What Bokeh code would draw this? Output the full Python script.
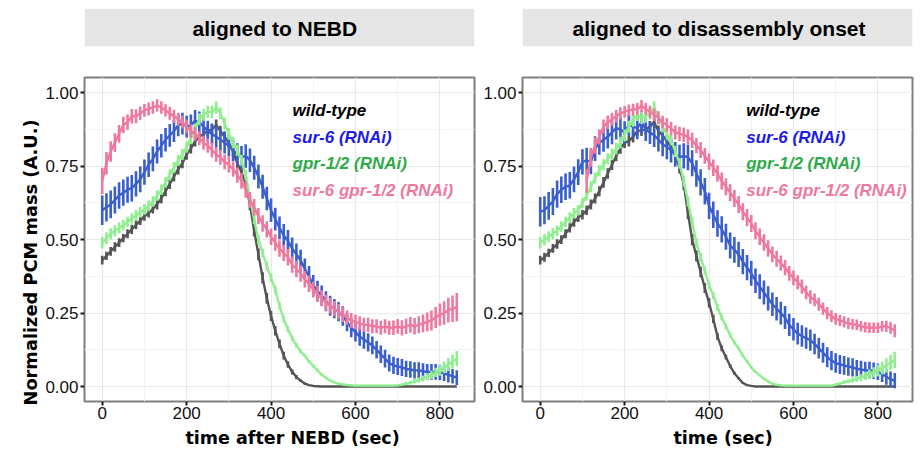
import math
from bokeh.plotting import figure
from bokeh.layouts import row, column
from bokeh.models import Range1d, FixedTicker, NumeralTickFormatter, Label, Title
from bokeh.embed import file_html
from bokeh.resources import INLINE

# ---------------- data ----------------
TIME = list(range(0, 850, 10))          # sampling times (s), 0..840
TIME_DBL_ONSET = list(range(110, 850, 10))  # double RNAi, disassembly-aligned, starts later

PANEL_TITLES = ["aligned to NEBD", "aligned to disassembly onset"]
X_TITLES = ["time after NEBD (sec)", "time (sec)"]
Y_TITLE = "Normalized PCM mass (A.U.)"
SERIES_NAMES = ["wild-type", "sur-6 (RNAi)", "gpr-1/2 (RNAi)", "sur-6 gpr-1/2 (RNAi)"]
X_TICKS = [0, 200, 400, 600, 800]
Y_TICKS = [0.0, 0.25, 0.5, 0.75, 1.0]

# --- panel 1: aligned to NEBD ---
wt_nebd = [0.430, 0.445, 0.460, 0.475, 0.490, 0.505, 0.520, 0.535, 0.550, 0.565,
           0.580, 0.590, 0.605, 0.620, 0.640, 0.665, 0.690, 0.715, 0.740, 0.760,
           0.790, 0.810, 0.835, 0.850, 0.860, 0.870, 0.875, 0.890, 0.870, 0.850,
           0.830, 0.800, 0.760, 0.730, 0.690, 0.620, 0.530, 0.450, 0.370, 0.300,
           0.240, 0.190, 0.145, 0.105, 0.075, 0.050, 0.032, 0.020, 0.010, 0.005,
           0.002, 0.001, 0.0, 0.0, 0.0, 0.0, 0.0, 0.0, 0.0, 0.0,
           0.0, 0.0, 0.0, 0.0, 0.0, 0.0, 0.0, 0.0, 0.0, 0.0,
           0.0, 0.0, 0.0, 0.0, 0.0, 0.0, 0.0, 0.0, 0.0, 0.0,
           0.0, 0.0, 0.0, 0.0, 0.0]
wt_nebd_err = [0.015, 0.014, 0.015, 0.016, 0.015, 0.014, 0.015, 0.016, 0.015, 0.015,
               0.016, 0.015, 0.016, 0.017, 0.016, 0.017, 0.018, 0.017, 0.018, 0.017,
               0.018, 0.017, 0.018, 0.018, 0.019, 0.018, 0.018, 0.019, 0.018, 0.018,
               0.018, 0.019, 0.018, 0.019, 0.020, 0.020, 0.019, 0.020, 0.019, 0.018,
               0.017, 0.016, 0.015, 0.013, 0.011, 0.009, 0.007, 0.005, 0.004, 0.003,
               0.002, 0.001, 0.0, 0.0, 0.0, 0.0, 0.0, 0.0, 0.0, 0.0,
               0.0, 0.0, 0.0, 0.0, 0.0, 0.0, 0.0, 0.0, 0.0, 0.0,
               0.0, 0.0, 0.0, 0.0, 0.0, 0.0, 0.0, 0.0, 0.0, 0.0,
               0.0, 0.0, 0.0, 0.0, 0.0]
sur6_nebd = [0.600, 0.610, 0.620, 0.635, 0.650, 0.660, 0.670, 0.675, 0.690, 0.705,
             0.730, 0.755, 0.775, 0.800, 0.820, 0.840, 0.855, 0.870, 0.890, 0.895,
             0.885, 0.890, 0.905, 0.900, 0.885, 0.870, 0.860, 0.850, 0.840, 0.830,
             0.820, 0.805, 0.790, 0.780, 0.785, 0.770, 0.745, 0.715, 0.680, 0.640,
             0.600, 0.570, 0.540, 0.515, 0.495, 0.470, 0.450, 0.430, 0.400, 0.375,
             0.345, 0.325, 0.310, 0.290, 0.275, 0.265, 0.255, 0.240, 0.220, 0.200,
             0.185, 0.170, 0.160, 0.150, 0.140, 0.125, 0.110, 0.095, 0.080, 0.072,
             0.068, 0.065, 0.060, 0.058, 0.055, 0.055, 0.052, 0.050, 0.050, 0.050,
             0.048, 0.045, 0.040, 0.035, 0.030]
sur6_nebd_err = [0.050, 0.048, 0.047, 0.046, 0.045, 0.045, 0.044, 0.045, 0.043, 0.044,
                 0.043, 0.042, 0.042, 0.041, 0.040, 0.040, 0.039, 0.038, 0.038, 0.037,
                 0.037, 0.036, 0.036, 0.036, 0.035, 0.035, 0.035, 0.036, 0.036, 0.037,
                 0.037, 0.038, 0.038, 0.039, 0.040, 0.040, 0.041, 0.041, 0.041, 0.040,
                 0.040, 0.039, 0.039, 0.038, 0.038, 0.037, 0.037, 0.036, 0.036, 0.035,
                 0.035, 0.035, 0.034, 0.034, 0.034, 0.033, 0.033, 0.033, 0.032, 0.032,
                 0.032, 0.031, 0.031, 0.031, 0.030, 0.030, 0.030, 0.030, 0.029, 0.029,
                 0.029, 0.029, 0.028, 0.028, 0.028, 0.028, 0.027, 0.027, 0.027, 0.027,
                 0.026, 0.026, 0.026, 0.025, 0.025]
gpr_nebd = [0.490, 0.505, 0.520, 0.530, 0.540, 0.550, 0.560, 0.572, 0.583, 0.593,
            0.603, 0.615, 0.630, 0.650, 0.670, 0.695, 0.720, 0.745, 0.770, 0.790,
            0.815, 0.845, 0.875, 0.910, 0.925, 0.935, 0.935, 0.950, 0.930, 0.895,
            0.860, 0.830, 0.805, 0.770, 0.720, 0.640, 0.570, 0.500, 0.455, 0.410,
            0.370, 0.330, 0.275, 0.230, 0.195, 0.165, 0.140, 0.120, 0.105, 0.085,
            0.070, 0.055, 0.040, 0.030, 0.020, 0.014, 0.010, 0.007, 0.005, 0.004,
            0.003, 0.003, 0.003, 0.003, 0.003, 0.003, 0.003, 0.003, 0.003, 0.003,
            0.004, 0.006, 0.010, 0.013, 0.018, 0.022, 0.027, 0.033, 0.040, 0.048,
            0.055, 0.065, 0.075, 0.085, 0.095]
gpr_nebd_err = [0.020, 0.020, 0.019, 0.019, 0.019, 0.018, 0.018, 0.018, 0.018, 0.018,
                0.018, 0.018, 0.018, 0.018, 0.018, 0.018, 0.019, 0.019, 0.019, 0.019,
                0.019, 0.020, 0.020, 0.020, 0.020, 0.021, 0.021, 0.021, 0.020, 0.020,
                0.020, 0.019, 0.019, 0.018, 0.018, 0.017, 0.017, 0.016, 0.015, 0.015,
                0.014, 0.013, 0.012, 0.011, 0.010, 0.009, 0.008, 0.007, 0.006, 0.005,
                0.005, 0.004, 0.004, 0.003, 0.003, 0.003, 0.003, 0.003, 0.003, 0.003,
                0.003, 0.003, 0.003, 0.003, 0.003, 0.003, 0.003, 0.003, 0.003, 0.003,
                0.003, 0.004, 0.005, 0.006, 0.008, 0.009, 0.010, 0.012, 0.014, 0.016,
                0.018, 0.020, 0.022, 0.024, 0.026]
dbl_nebd = [0.700, 0.760, 0.800, 0.830, 0.860, 0.890, 0.900, 0.920, 0.920, 0.930,
            0.940, 0.945, 0.950, 0.957, 0.950, 0.940, 0.930, 0.920, 0.910, 0.900,
            0.885, 0.870, 0.860, 0.845, 0.830, 0.820, 0.805, 0.790, 0.780, 0.765,
            0.755, 0.740, 0.720, 0.700, 0.670, 0.635, 0.610, 0.580, 0.555, 0.535,
            0.510, 0.490, 0.470, 0.455, 0.440, 0.415, 0.400, 0.385, 0.365, 0.350,
            0.330, 0.315, 0.300, 0.285, 0.275, 0.265, 0.255, 0.245, 0.235, 0.225,
            0.220, 0.215, 0.210, 0.210, 0.205, 0.205, 0.200, 0.205, 0.200, 0.200,
            0.205, 0.200, 0.205, 0.210, 0.205, 0.210, 0.215, 0.220, 0.225, 0.235,
            0.245, 0.250, 0.260, 0.265, 0.270]
dbl_nebd_err = [0.045, 0.038, 0.035, 0.032, 0.030, 0.028, 0.026, 0.025, 0.024, 0.023,
                0.022, 0.022, 0.021, 0.021, 0.021, 0.021, 0.022, 0.022, 0.022, 0.022,
                0.023, 0.023, 0.023, 0.024, 0.024, 0.024, 0.025, 0.025, 0.025, 0.025,
                0.026, 0.026, 0.026, 0.027, 0.027, 0.027, 0.028, 0.028, 0.028, 0.028,
                0.028, 0.028, 0.028, 0.028, 0.028, 0.028, 0.028, 0.028, 0.028, 0.028,
                0.027, 0.027, 0.027, 0.027, 0.026, 0.026, 0.026, 0.025, 0.025, 0.025,
                0.025, 0.024, 0.024, 0.024, 0.024, 0.024, 0.024, 0.024, 0.024, 0.025,
                0.025, 0.026, 0.026, 0.027, 0.028, 0.029, 0.030, 0.032, 0.034, 0.036,
                0.038, 0.040, 0.042, 0.045, 0.048]

# --- panel 2: aligned to disassembly onset ---
wt_onset = [0.430, 0.440, 0.455, 0.470, 0.485, 0.500, 0.520, 0.540, 0.560, 0.575,
            0.585, 0.600, 0.620, 0.640, 0.665, 0.695, 0.725, 0.755, 0.785, 0.810,
            0.830, 0.835, 0.850, 0.870, 0.872, 0.875, 0.885, 0.900, 0.870, 0.855,
            0.835, 0.815, 0.785, 0.745, 0.690, 0.590, 0.500, 0.445, 0.390, 0.335,
            0.285, 0.230, 0.170, 0.130, 0.100, 0.070, 0.045, 0.028, 0.012, 0.005,
            0.002, 0.0, 0.0, 0.0, 0.0, 0.0, 0.0, 0.0, 0.0, 0.0,
            0.0, 0.0, 0.0, 0.0, 0.0, 0.0, 0.0, 0.0, 0.0, 0.0,
            0.0, 0.0, 0.0, 0.0, 0.0, 0.0, 0.0, 0.0, 0.0, 0.0,
            0.0, 0.0, 0.0, 0.0, 0.0]
wt_onset_err = [0.015, 0.015, 0.014, 0.015, 0.016, 0.015, 0.015, 0.016, 0.016, 0.015,
                0.016, 0.016, 0.017, 0.017, 0.017, 0.018, 0.018, 0.018, 0.018, 0.018,
                0.018, 0.018, 0.019, 0.018, 0.019, 0.019, 0.018, 0.019, 0.019, 0.019,
                0.019, 0.020, 0.020, 0.020, 0.020, 0.020, 0.019, 0.019, 0.018, 0.017,
                0.016, 0.014, 0.012, 0.010, 0.008, 0.006, 0.005, 0.004, 0.003, 0.002,
                0.001, 0.0, 0.0, 0.0, 0.0, 0.0, 0.0, 0.0, 0.0, 0.0,
                0.0, 0.0, 0.0, 0.0, 0.0, 0.0, 0.0, 0.0, 0.0, 0.0,
                0.0, 0.0, 0.0, 0.0, 0.0, 0.0, 0.0, 0.0, 0.0, 0.0,
                0.0, 0.0, 0.0, 0.0, 0.0]
sur6_onset = [0.595, 0.600, 0.615, 0.630, 0.655, 0.670, 0.680, 0.685, 0.705, 0.730,
              0.765, 0.770, 0.765, 0.810, 0.830, 0.840, 0.850, 0.865, 0.880, 0.875,
              0.865, 0.890, 0.885, 0.880, 0.900, 0.875, 0.865, 0.855, 0.840, 0.825,
              0.815, 0.805, 0.790, 0.780, 0.785, 0.780, 0.760, 0.725, 0.695, 0.665,
              0.615, 0.585, 0.555, 0.535, 0.510, 0.480, 0.465, 0.450, 0.425, 0.405,
              0.385, 0.360, 0.340, 0.320, 0.300, 0.280, 0.265, 0.250, 0.235, 0.210,
              0.195, 0.180, 0.172, 0.165, 0.158, 0.145, 0.130, 0.115, 0.100, 0.088,
              0.080, 0.075, 0.072, 0.068, 0.065, 0.060, 0.058, 0.055, 0.055, 0.054,
              0.050, 0.042, 0.033, 0.025, 0.020]
sur6_onset_err = [0.050, 0.048, 0.047, 0.046, 0.046, 0.045, 0.045, 0.045, 0.044, 0.044,
                  0.043, 0.043, 0.042, 0.042, 0.041, 0.041, 0.040, 0.040, 0.039, 0.039,
                  0.038, 0.038, 0.038, 0.038, 0.038, 0.039, 0.039, 0.040, 0.040, 0.041,
                  0.041, 0.042, 0.042, 0.043, 0.043, 0.044, 0.044, 0.045, 0.045, 0.045,
                  0.045, 0.045, 0.045, 0.045, 0.044, 0.044, 0.044, 0.043, 0.043, 0.043,
                  0.042, 0.042, 0.042, 0.041, 0.041, 0.040, 0.040, 0.039, 0.039, 0.038,
                  0.038, 0.037, 0.037, 0.036, 0.036, 0.035, 0.035, 0.034, 0.034, 0.033,
                  0.033, 0.032, 0.032, 0.031, 0.031, 0.030, 0.030, 0.029, 0.029, 0.028,
                  0.028, 0.027, 0.027, 0.026, 0.026]
gpr_onset = [0.490, 0.500, 0.510, 0.520, 0.530, 0.545, 0.560, 0.575, 0.590, 0.600,
             0.625, 0.650, 0.680, 0.710, 0.735, 0.755, 0.775, 0.790, 0.810, 0.830,
             0.855, 0.885, 0.905, 0.925, 0.915, 0.920, 0.930, 0.950, 0.915, 0.885,
             0.860, 0.840, 0.800, 0.760, 0.700, 0.630, 0.560, 0.490, 0.440, 0.395,
             0.345, 0.310, 0.270, 0.235, 0.205, 0.175, 0.150, 0.130, 0.105, 0.085,
             0.065, 0.050, 0.038, 0.027, 0.017, 0.010, 0.006, 0.004, 0.003, 0.003,
             0.003, 0.003, 0.003, 0.003, 0.003, 0.003, 0.003, 0.003, 0.003, 0.003,
             0.006, 0.010, 0.015, 0.018, 0.022, 0.026, 0.030, 0.036, 0.042, 0.048,
             0.055, 0.063, 0.072, 0.082, 0.090]
gpr_onset_err = [0.020, 0.019, 0.019, 0.019, 0.018, 0.018, 0.018, 0.018, 0.018, 0.018,
                 0.018, 0.018, 0.019, 0.019, 0.019, 0.019, 0.019, 0.020, 0.020, 0.020,
                 0.020, 0.020, 0.021, 0.021, 0.021, 0.021, 0.021, 0.021, 0.020, 0.020,
                 0.020, 0.019, 0.019, 0.018, 0.018, 0.017, 0.016, 0.016, 0.015, 0.014,
                 0.013, 0.012, 0.011, 0.010, 0.009, 0.008, 0.007, 0.006, 0.005, 0.005,
                 0.004, 0.004, 0.003, 0.003, 0.003, 0.003, 0.003, 0.003, 0.003, 0.003,
                 0.003, 0.003, 0.003, 0.003, 0.003, 0.003, 0.003, 0.003, 0.003, 0.003,
                 0.004, 0.005, 0.006, 0.007, 0.009, 0.010, 0.012, 0.014, 0.016, 0.018,
                 0.020, 0.022, 0.024, 0.026, 0.028]
dbl_onset = [0.700, 0.780, 0.820, 0.850, 0.885, 0.900, 0.910, 0.920, 0.930,
             0.935, 0.940, 0.943, 0.945, 0.955, 0.945, 0.935, 0.925, 0.915, 0.900,
             0.890, 0.878, 0.865, 0.860, 0.857, 0.850, 0.838, 0.820, 0.805, 0.785,
             0.765, 0.745, 0.725, 0.700, 0.680, 0.660, 0.640, 0.620, 0.595, 0.575,
             0.555, 0.530, 0.510, 0.490, 0.470, 0.450, 0.435, 0.420, 0.405, 0.385,
             0.370, 0.355, 0.340, 0.320, 0.305, 0.295, 0.280, 0.265, 0.250, 0.240,
             0.230, 0.225, 0.220, 0.215, 0.212, 0.210, 0.205, 0.202, 0.200, 0.200,
             0.200, 0.205, 0.205, 0.200, 0.190]
dbl_onset_err = [0.040, 0.032, 0.028, 0.026, 0.024, 0.023, 0.022, 0.021, 0.021,
                 0.020, 0.020, 0.020, 0.020, 0.020, 0.020, 0.021, 0.021, 0.022, 0.022,
                 0.023, 0.023, 0.024, 0.024, 0.025, 0.025, 0.026, 0.026, 0.027, 0.027,
                 0.028, 0.028, 0.028, 0.029, 0.029, 0.029, 0.029, 0.029, 0.029, 0.029,
                 0.029, 0.029, 0.028, 0.028, 0.028, 0.027, 0.027, 0.026, 0.026, 0.025,
                 0.025, 0.024, 0.024, 0.023, 0.023, 0.022, 0.022, 0.021, 0.021, 0.020,
                 0.020, 0.019, 0.019, 0.019, 0.018, 0.018, 0.018, 0.018, 0.018, 0.018,
                 0.018, 0.018, 0.019, 0.020, 0.022]

# ---------------- style ----------------
LINE_COLORS = ["#555555", "#3a5fcd", "#90ee90", "#ee799f"]
TEXT_COLORS = ["#000000", "#1c1ce6", "#2eab48", "#ee799f"]
FONT = "Liberation Sans"
TITLE_FONT = "DejaVu Sans"

X_RANGE = (-42, 882)
Y_RANGE = (-0.051, 1.052)


def strip(title, ml, mr, text_x):
    s = figure(frame_width=390, frame_height=38, min_border_left=ml, min_border_right=mr,
               min_border_top=8, min_border_bottom=24,
               x_range=Range1d(0, 1), y_range=Range1d(0, 1),
               x_axis_location=None, y_axis_location=None,
               toolbar_location=None, output_backend="svg")
    s.outline_line_color = None
    s.grid.visible = False
    s.background_fill_color = "white"
    s.border_fill_color = "white"
    s.quad(left=[0], right=[1], bottom=[0], top=[1], fill_color="#e5e5e5", line_color=None)
    s.add_layout(Label(x=text_x, y=0.47, text=title, text_align="center", text_baseline="middle",
                       text_font=FONT, text_font_style="bold", text_font_size="21px",
                       text_color="#000000"))
    return s


def panel(series, ml, mr, xtitle, xtitle_offset, legend_x, show_ytitle):
    p = figure(frame_width=390, frame_height=324, min_border_left=ml, min_border_right=mr,
               min_border_top=7, min_border_bottom=54,
               x_range=Range1d(*X_RANGE), y_range=Range1d(*Y_RANGE),
               toolbar_location=None, output_backend="svg")
    p.background_fill_color = "white"
    p.border_fill_color = "white"
    p.outline_line_color = "#7f7f7f"
    p.outline_line_width = 2

    p.xaxis.ticker = FixedTicker(ticks=X_TICKS, minor_ticks=[100, 300, 500, 700])
    p.yaxis.ticker = FixedTicker(ticks=Y_TICKS, minor_ticks=[0.125, 0.375, 0.625, 0.875])
    p.yaxis.formatter = NumeralTickFormatter(format="0.00")
    for ax in (p.xaxis[0], p.yaxis[0]):
        ax.axis_line_color = None
        ax.major_tick_line_color = "#1a1a1a"
        ax.major_tick_line_width = 2
        ax.major_tick_out = 4
        ax.major_tick_in = 0
        ax.minor_tick_line_color = None
        ax.major_label_text_font = FONT
        ax.major_label_text_font_size = "17px"
        ax.major_label_text_color = "#111111"
    p.xaxis.major_label_standoff = 1
    p.yaxis.major_label_standoff = 2

    p.grid.grid_line_color = "#e8e8e8"
    p.grid.grid_line_width = 1.2
    p.grid.minor_grid_line_color = "#f3f3f3"
    p.grid.minor_grid_line_width = 1

    for (t, y, e), col in zip(series, LINE_COLORS):
        lo = [a - b for a, b in zip(y, e)]
        hi = [a + b for a, b in zip(y, e)]
        p.segment(x0=t, y0=lo, x1=t, y1=hi, line_color=col, line_width=2.6)
        p.line(t, y, line_color=col, line_width=2.4)

    # legend (inside the panel)
    for i, (name, col) in enumerate(zip(SERIES_NAMES, TEXT_COLORS)):
        p.add_layout(Label(x=legend_x, y=0.940 - 0.0908 * i, text=name,
                           text_align="left", text_baseline="alphabetic",
                           text_font=FONT, text_font_style="bold italic",
                           text_font_size="17px", text_color=col))

    # axis titles (side titles, left-aligned with an offset to sit where the reference has them)
    xt = Title(text=xtitle, align="left", offset=xtitle_offset, standoff=8,
               text_font=TITLE_FONT, text_font_style="bold", text_font_size="17.5px",
               text_color="#000000")
    p.add_layout(xt, "below")
    if show_ytitle:
        yt = Title(text=Y_TITLE, align="left", offset=-4, standoff=4,
                   text_font=TITLE_FONT, text_font_style="bold", text_font_size="17.8px",
                   text_color="#000000")
        p.add_layout(yt, "left")
    return p


series1 = [(TIME, wt_nebd, wt_nebd_err), (TIME, sur6_nebd, sur6_nebd_err),
           (TIME, gpr_nebd, gpr_nebd_err), (TIME, dbl_nebd, dbl_nebd_err)]
series2 = [(TIME, wt_onset, wt_onset_err), (TIME, sur6_onset, sur6_onset_err),
           (TIME, gpr_onset, gpr_onset_err), (TIME_DBL_ONSET, dbl_onset, dbl_onset_err)]

s1 = strip(PANEL_TITLES[0], 84, 4, 0.488)
p1 = panel(series1, 84, 4, X_TITLES[0], 101, 451, True)
s2 = strip(PANEL_TITLES[1], 44, 12, 0.504)
p2 = panel(series2, 44, 12, X_TITLES[1], 151, 488, False)

layout = row(column(s1, p1), column(s2, p2))

open("out.html", "w").write(file_html(layout, INLINE))
